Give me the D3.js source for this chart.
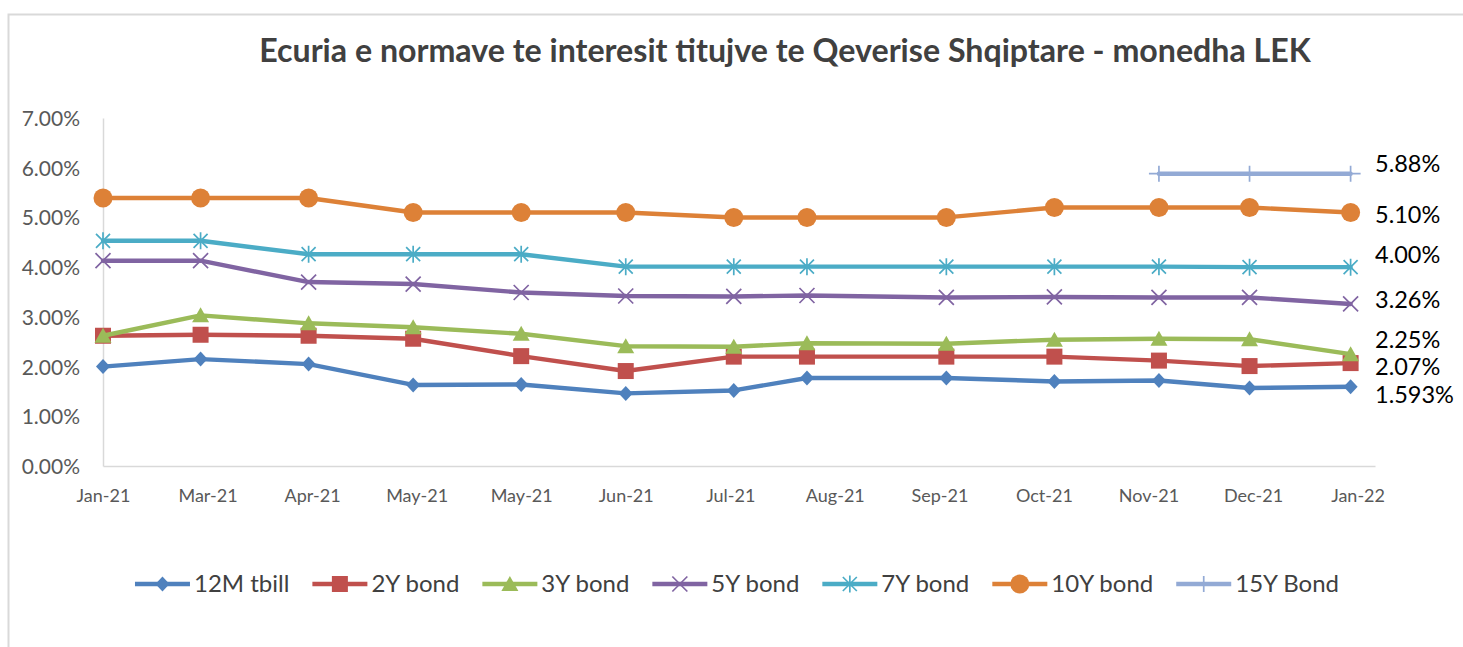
<!DOCTYPE html>
<html><head><meta charset="utf-8">
<script src="https://cdn.jsdelivr.net/npm/d3@7"></script>
<style>
html,body{margin:0;padding:0;background:#fff;}
svg{display:block;font-family:Lato,"Open Sans",sans-serif;}
</style>
</head><body>
<svg id="chart" width="1463" height="647"></svg>
<script>
// ---------------- data ----------------
const title = "Ecuria e normave te interesit titujve te Qeverise Shqiptare - monedha LEK";
const dates = ["2021-01-31","2021-02-28","2021-03-31","2021-04-30","2021-05-31","2021-06-30",
               "2021-07-31","2021-08-21","2021-09-30","2021-10-31","2021-11-30","2021-12-26","2022-01-24"];
const tickLabels = ["Jan-21","Mar-21","Apr-21","May-21","May-21","Jun-21","Jul-21",
                    "Aug-21","Sep-21","Oct-21","Nov-21","Dec-21","Jan-22"];
const yTicks = [0,1,2,3,4,5,6,7];
const seriesNames = ["12M tbill","2Y bond","3Y bond","5Y bond","7Y bond","10Y bond","15Y Bond"];
const tbill12M = [2.00,2.15,2.05,1.63,1.64,1.46,1.52,1.77,1.77,1.70,1.72,1.57,1.593];
const bond2Y   = [2.62,2.64,2.62,2.56,2.21,1.91,2.20,2.20,2.20,2.20,2.12,2.01,2.07];
const bond3Y   = [2.62,3.03,2.87,2.79,2.66,2.41,2.40,2.47,2.46,2.54,2.56,2.55,2.25];
const bond5Y   = [4.13,4.13,3.70,3.66,3.49,3.42,3.41,3.43,3.39,3.40,3.39,3.39,3.26];
const bond7Y   = [4.53,4.53,4.26,4.26,4.26,4.01,4.01,4.01,4.01,4.01,4.01,4.00,4.00];
const bond10Y  = [5.39,5.39,5.39,5.10,5.10,5.10,5.00,5.00,5.00,5.20,5.20,5.20,5.10];
const bond15Y  = [null,null,null,null,null,null,null,null,null,null,5.88,5.88,5.88];
const endLabels = ["5.88%","5.10%","4.00%","3.26%","2.25%","2.07%","1.593%"];

// ---------------- style / layout ----------------
const colors  = ["#4F81BD","#C0504D","#9BBB59","#8064A2","#4BACC6","#DD8137","#93AAD5"];
const markers = ["diamond","square","triangle","x","star","circle","plus"];
const endLabelSeries = [6,5,4,3,2,1,0];          // which series each end label belongs to
const endLabelNudge  = [-10,2.5,-12,-4,-14,4,8]; // px offsets of the text labels
const W = 1463, H = 647;
const plot = {left:103, right:1375, top:118, bottom:466};

const svg = d3.select("#chart");
const parse = d3.timeParse("%Y-%m-%d");
const dateVals = dates.map(parse);
const allSeries = [tbill12M,bond2Y,bond3Y,bond5Y,bond7Y,bond10Y,bond15Y];

// outer border
svg.append("rect").attr("x",8.5).attr("y",14.5).attr("width",W+10).attr("height",H+10)
   .attr("fill","none").attr("stroke","#d9d9d9").attr("stroke-width",2);

const start = parse("2021-01-31");
const x = d3.scaleTime().domain([start, parse("2022-01-31")]).range([plot.left, plot.right]);
const y = d3.scaleLinear().domain([0,7]).range([plot.bottom, plot.top]);
const tickDates = tickLabels.map((_,i)=>d3.timeDay.offset(start, 30*i));

// title
const tt = svg.append("text").attr("x",785).attr("y",62).attr("text-anchor","middle")
  .attr("font-weight","bold").attr("fill","#404040").attr("font-size",26).text(title);
const tw = tt.node().getComputedTextLength();
tt.attr("font-size", 26*1052/tw);

// axes
const yAxis = svg.append("g").attr("transform",`translate(${plot.left},0)`)
  .call(d3.axisLeft(y).tickValues(yTicks).tickFormat(d=>d.toFixed(2)+"%").tickSize(0).tickSizeOuter(0).tickPadding(23));
yAxis.select(".domain").attr("stroke","#d9d9d9").attr("stroke-width",1.5);
yAxis.selectAll("text").attr("font-size",21).attr("fill","#595959").attr("font-family","Lato").attr("dy","0.36em");

const xAxis = svg.append("g").attr("transform",`translate(0,${plot.bottom})`)
  .call(d3.axisBottom(x).tickValues(tickDates).tickFormat((d,i)=>tickLabels[i]).tickSize(0).tickSizeOuter(0).tickPadding(23));
xAxis.select(".domain").attr("stroke","#d9d9d9").attr("stroke-width",1.5);
xAxis.selectAll("text").attr("font-size",18).attr("fill","#595959").attr("font-family","Lato");

// markers
function drawMarker(g, type, color){
  switch(type){
    case "diamond": g.append("path").attr("d","M0,-7.5L7,0L0,7.5L-7,0Z").attr("fill",color); break;
    case "square": g.append("rect").attr("x",-8).attr("y",-8).attr("width",16).attr("height",16).attr("fill",color); break;
    case "triangle": g.append("path").attr("d","M0,-8L8.5,7L-8.5,7Z").attr("fill",color); break;
    case "x": g.append("path").attr("d","M-7.5,-7.5L7.5,7.5M-7.5,7.5L7.5,-7.5").attr("stroke",color).attr("stroke-width",1.7).attr("fill","none"); break;
    case "star": g.append("path").attr("d","M-7,-7L7,7M-7,7L7,-7M0,-8.5L0,8.5").attr("stroke",color).attr("stroke-width",1.7).attr("fill","none"); break;
    case "circle": g.append("circle").attr("r",9.5).attr("fill",color); break;
    case "plus": g.append("path").attr("d","M0,-8L0,8M-10,0L10,0").attr("stroke",color).attr("stroke-width",1.7).attr("fill","none"); break;
  }
}

const line = d3.line().defined(d=>d.v!=null).x(d=>x(d.d)).y(d=>y(d.v));
allSeries.forEach((series,si)=>{
  const pts = series.map((v,i)=>({d:dateVals[i], v}));
  const g = svg.append("g");
  g.append("path").attr("d",line(pts)).attr("fill","none").attr("stroke",colors[si])
    .attr("stroke-width",4.4).attr("stroke-linejoin","round").attr("stroke-linecap","round");
  pts.filter(p=>p.v!=null).forEach(p=>{
    drawMarker(g.append("g").attr("transform",`translate(${x(p.d)},${y(p.v)})`), markers[si], colors[si]);
  });
});

// end labels
endLabels.forEach((lab,i)=>{
  const s = allSeries[endLabelSeries[i]];
  svg.append("text").attr("x",1375).attr("y",y(s[s.length-1])+endLabelNudge[i]).attr("dy","0.35em")
    .attr("font-size",23.5).attr("fill","#000").text(lab);
});

// legend
const leg = svg.append("g");
const items = seriesNames.map((n,i)=>{
  const g = leg.append("g");
  g.append("line").attr("x1",0).attr("x2",55).attr("y1",0).attr("y2",0).attr("stroke",colors[i]).attr("stroke-width",4.4);
  drawMarker(g.append("g").attr("transform","translate(27.5,0)"), markers[i], colors[i]);
  const t = g.append("text").attr("x",59).attr("dy","0.35em").attr("font-size",24).attr("fill","#404040").text(n);
  return {g, w:59+t.node().getComputedTextLength()};
});
const gap = 23;
const total = d3.sum(items,d=>d.w)+gap*(items.length-1);
let cx = 737 - total/2;
items.forEach(it=>{ it.g.attr("transform",`translate(${cx},584)`); cx += it.w+gap; });
</script>
</body></html>
